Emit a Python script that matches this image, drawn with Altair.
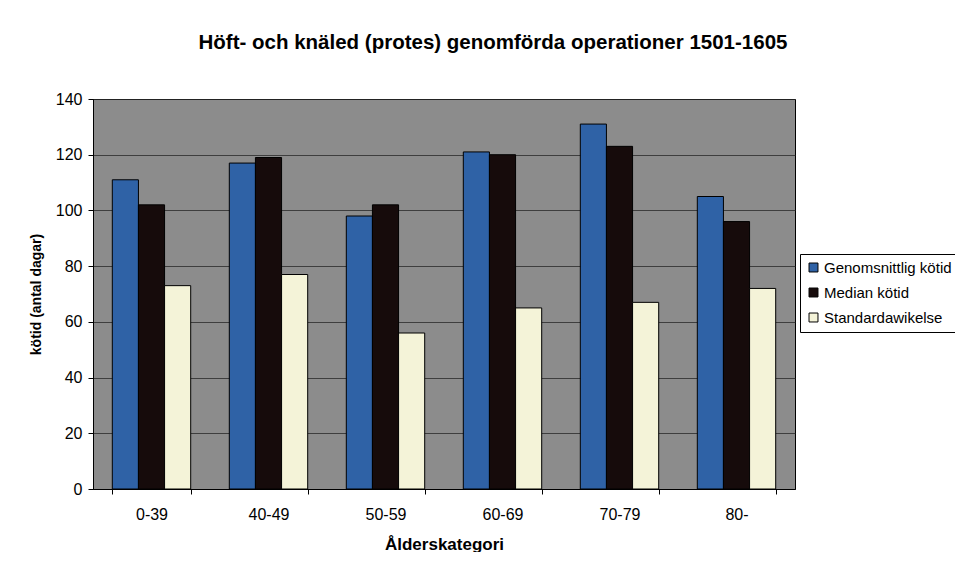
import altair as alt
import pandas as pd

categories = ["0-39", "40-49", "50-59", "60-69", "70-79", "80-"]
series_names = ["Genomsnittlig kötid", "Median kötid", "Standardawikelse"]
genomsnitt = [111, 117, 98, 121, 131, 105]
median = [102, 119, 102, 120, 123, 96]
standardavv = [73, 77, 56, 65, 67, 72]
colors = ["#2f62a6", "#160b0b", "#f4f3d8"]

rows = []
for i, c in enumerate(categories):
    for s, vals in zip(series_names, [genomsnitt, median, standardavv]):
        rows.append({"kat": c, "serie": s, "varde": vals[i]})
df = pd.DataFrame(rows)

FONT = "Liberation Sans"

chart = alt.Chart(df).mark_bar(stroke="black", strokeWidth=1).encode(
    x=alt.X("kat:N", sort=categories, title="Ålderskategori",
            scale=alt.Scale(paddingInner=0.33, paddingOuter=0.165),
            axis=alt.Axis(labelAngle=0, labelFontSize=16, labelColor="black",
                          titleFontSize=17, titleFontWeight="bold", titleColor="black",
                          titlePadding=14, labelPadding=12, tickBand="extent",
                          domainColor="black", tickColor="black", tickSize=5)),
    xOffset=alt.XOffset("serie:N", sort=series_names),
    y=alt.Y("varde:Q", title="kötid (antal dagar)",
            scale=alt.Scale(domain=[0, 140]),
            axis=alt.Axis(values=[0, 20, 40, 60, 80, 100, 120, 140],
                          labelFontSize=16, labelColor="black",
                          titleFontSize=14, titleFontWeight="bold", titleColor="black",
                          titlePadding=12, labelPadding=6,
                          domainColor="black", tickColor="black", tickSize=5,
                          grid=True, gridColor="#2a2a2a", gridWidth=1, gridOpacity=0.8)),
    color=alt.Color("serie:N", sort=series_names, title=None,
                    scale=alt.Scale(domain=series_names, range=colors),
                    legend=alt.Legend(orient="none", legendX=707, legendY=155,
                                      fillColor="white", strokeColor="black",
                                      padding=6, symbolType="square", symbolSize=80,
                                      symbolStrokeColor="black", symbolStrokeWidth=1,
                                      labelFontSize=15, labelColor="black",
                                      rowPadding=9, labelOffset=3)),
).properties(
    width=702,
    height=390,
    title=alt.TitleParams("Höft- och knäled (protes) genomförda operationer 1501-1605",
                          fontSize=20.5, fontWeight="bold", font=FONT, color="black",
                          anchor="middle", dx=49, offset=38),
    autosize=alt.AutoSizeParams(type="none"),
    padding={"left": 85, "top": 91, "right": 160, "bottom": 63},
).configure(font=FONT, background="white").configure_view(
    fill="#8c8c8c", stroke="black", strokeWidth=1
).configure_axis(labelFont=FONT, titleFont=FONT).configure_legend(labelFont=FONT)

chart.save("out.html", embed_options={"renderer": "svg", "actions": False})
